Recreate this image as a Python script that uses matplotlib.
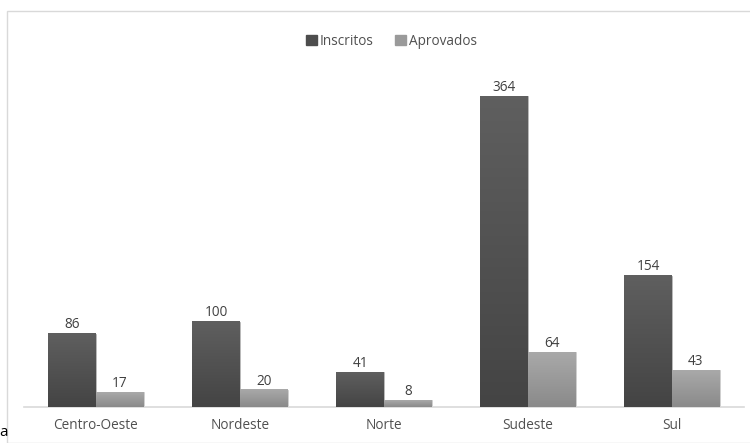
import numpy as np
import matplotlib.pyplot as plt
from matplotlib.patches import Rectangle
from matplotlib.colors import LinearSegmentedColormap

plt.rcParams['font.family'] = ['Open Sans', 'DejaVu Sans']

regioes = ['Centro-Oeste', 'Nordeste', 'Norte', 'Sudeste', 'Sul']
inscritos = [86, 100, 41, 364, 154]
aprovados = [17, 20, 8, 64, 43]

W, H = 750, 443
fig = plt.figure(figsize=(W / 100, H / 100), dpi=100)

# moldura clara do gráfico
fig.patches.append(Rectangle((7 / W, 0), 1, 1 - 11 / H, transform=fig.transFigure,
                             fill=False, edgecolor='#d9d9d9', linewidth=1))

ax = fig.add_axes([24 / W, 36 / H, 720 / W, 350 / H])

cmap_esc = LinearSegmentedColormap.from_list('esc', ['#444444', '#5f5f5f'])
cmap_cla = LinearSegmentedColormap.from_list('cla', ['#8a8a8a', '#a9a9a9'])
grad = np.linspace(0, 1, 100).reshape(-1, 1)

largura = 0.33
x = np.arange(len(regioes))
barras1 = ax.bar(x - largura / 2, inscritos, largura, color='#555555', edgecolor='#bdbdbd',
                 linewidth=0.6, zorder=2)
barras2 = ax.bar(x + largura / 2, aprovados, largura, color='#9a9a9a', edgecolor='#d0d0d0',
                 linewidth=0.6, zorder=2)

# gradiente vertical em cada barra
for barras, cm in [(barras1, cmap_esc), (barras2, cmap_cla)]:
    for b in barras:
        x0, y0 = b.get_x(), b.get_y()
        ax.imshow(grad, cmap=cm, aspect='auto', origin='lower', zorder=3,
                  extent=[x0, x0 + b.get_width(), y0, y0 + b.get_height()])
ax.set_xlim(-0.5, len(regioes) - 0.5)
ax.set_ylim(0, 410)

for barras, vals in [(barras1, inscritos), (barras2, aprovados)]:
    for b, v in zip(barras, vals):
        ax.text(b.get_x() + b.get_width() / 2, v + 1.5, str(v), ha='center', va='bottom',
                fontsize=9.8, color='#404040')

for s in ['top', 'right', 'left']:
    ax.spines[s].set_visible(False)
ax.spines['bottom'].set_color('#d9d9d9')
ax.spines['bottom'].set_linewidth(1.2)
ax.set_yticks([])
ax.set_xticks(x)
ax.set_xticklabels(regioes, fontsize=9.8, color='#505050')
ax.tick_params(axis='x', length=0, pad=8)

# legenda
ax.legend([Rectangle((0, 0), 1, 1, color='#4d4d4d'), Rectangle((0, 0), 1, 1, color='#9a9a9a')],
          ['Inscritos', 'Aprovados'], loc='upper center', bbox_to_anchor=(0.51, 1.102),
          ncol=2, frameon=False, fontsize=9.8, handlelength=0.8, handleheight=0.8,
          handletextpad=0.2, columnspacing=1.6, labelcolor='#505050')

fig.text(-1 / W, 1 - 432 / H, 'a', fontsize=11, color='black', ha='left', va='center')

fig.savefig('out.png', dpi=100)
